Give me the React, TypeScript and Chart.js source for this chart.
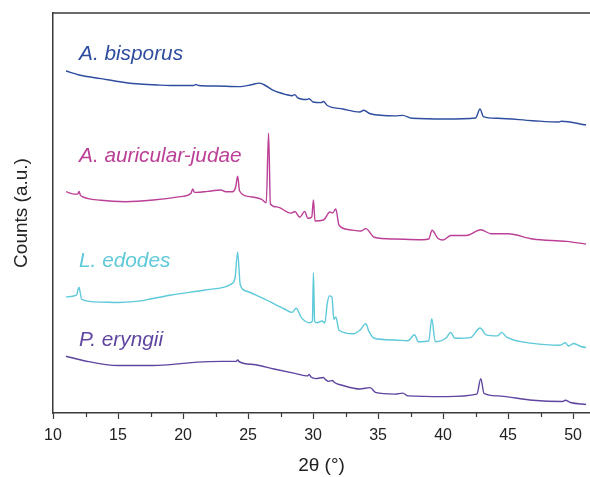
import React, { useEffect, useRef } from "react";
import { Chart, registerables } from "chart.js";

Chart.register(...registerables);

// ---- data (offset-stacked XRD patterns, arbitrary count units) ----
const bisporusX = [11.0, 12.0, 13.7, 15.0, 16.4, 18.0, 19.0, 20.8, 21.0, 21.2, 22.5, 24.3, 25.25, 25.86, 26.2, 27.0, 28.0, 28.4, 28.6, 28.8, 29.5, 29.7, 30.0, 30.6, 30.8, 31.1, 32.3, 33.6, 33.9, 34.4, 36.3, 36.9, 37.6, 40.2, 42.5, 42.84, 43.1, 44.2, 46.9, 48.9, 49.1, 51.0];
const bisporusY = [342, 338, 334.4, 331.5, 329.2, 328, 327.5, 327.5, 328.5, 327.5, 327, 326.4, 328.2, 329.9, 328.5, 322.3, 318.2, 317.2, 318.4, 315.4, 313.5, 314.2, 311, 310.4, 311.5, 307.5, 304, 301, 302.7, 299.2, 297.1, 297.6, 294.7, 294, 295, 304, 296.4, 294.7, 292.3, 291, 291.8, 288];

const auricularX = [11.0, 11.6, 11.9, 12.0, 12.1, 12.25, 13.7, 15.6, 17.7, 19.8, 20.6, 20.75, 20.85, 21.0, 21.9, 22.9, 23.3, 23.8, 24.05, 24.2, 24.35, 25.1, 26.05, 26.4, 26.58, 26.72, 27.2, 28.3, 28.6, 28.97, 29.36, 29.6, 29.9, 30.03, 30.15, 30.8, 31.3, 31.5, 31.75, 32.0, 32.8, 33.7, 34.06, 34.7, 36.3, 38.4, 38.9, 39.15, 39.6, 40.0, 40.6, 41.8, 42.9, 43.7, 45.0, 46.9, 49.5, 51.0];
const auricularY = [221.3, 218.9, 219, 221.6, 218, 216.4, 212.7, 211.3, 213, 216.4, 219.6, 224, 221, 220.6, 221.6, 223, 221.3, 221.3, 226, 236.8, 222, 216.4, 213.7, 210.2, 279.9, 209, 206.1, 199.9, 201.5, 195.8, 201.6, 194.7, 196, 213, 192, 193, 201, 200, 204, 187.8, 183.3, 182, 184.4, 175.8, 174, 173.3, 174, 182.7, 174.7, 173, 177.5, 177.5, 183.3, 179.2, 179.2, 174, 171.6, 168.9];

const edodesX = [11.0, 11.8, 12.0, 12.2, 13.7, 15.0, 16.4, 17.5, 19.0, 21.7, 23.3, 23.7, 24.0, 24.2, 24.4, 24.85, 26.2, 27.8, 28.4, 28.7, 29.1, 29.75, 29.95, 30.03, 30.12, 30.3, 30.7, 30.9, 31.1, 31.25, 31.45, 31.6, 31.75, 32.0, 33.1, 33.6, 34.06, 34.3, 34.7, 36.3, 37.3, 37.8, 38.1, 38.9, 39.13, 39.4, 40.2, 40.6, 40.9, 42.1, 42.85, 43.3, 44.2, 44.5, 44.9, 46.9, 49.0, 49.4, 49.65, 50.05, 50.6, 51.0];
const edodesY = [116.1, 117.8, 125.8, 113.7, 110.9, 110.5, 111.6, 114, 117.8, 123, 126.4, 128.9, 135, 160.9, 128.2, 122, 114.4, 104, 100.6, 104.7, 95.4, 90.2, 92, 140.2, 92, 90.2, 92, 90, 110, 117.1, 116.1, 93.7, 96, 82.7, 79.2, 82.7, 89.2, 81.6, 74.7, 73, 72.3, 78.2, 71.3, 72, 94.4, 71.3, 74.7, 80.6, 74.7, 75.4, 85, 78.2, 77.1, 80.6, 75.8, 69.6, 67.8, 70.2, 67, 69.5, 66.5, 65.4];

const eryngiiX = [11.0, 12.4, 15.0, 17.7, 20.3, 21.1, 23.0, 24.1, 24.2, 24.35, 25.6, 27.0, 28.6, 29.6, 29.7, 29.85, 30.2, 30.8, 30.95, 31.2, 31.5, 31.65, 32.3, 33.6, 34.4, 34.8, 36.3, 36.9, 37.3, 40.2, 42.6, 42.9, 43.15, 44.2, 46.9, 49.2, 49.4, 49.8, 51.0];
const eryngiiY = [56.8, 52.3, 47.5, 47.5, 49.9, 50.9, 51.6, 51.6, 53, 51, 48.2, 44, 39.6, 37.1, 38.5, 36, 34.4, 35.5, 33.5, 31.6, 32.5, 30.5, 27.5, 24, 25.4, 20.6, 18.9, 19.9, 17.1, 16.4, 18.9, 34.4, 19.6, 17.1, 12.7, 11.5, 12.8, 10.5, 8.5];

const seriesNames = ["A. bisporus", "A. auricular-judae", "L. edodes", "P. eryngii"];
const seriesColors = ["#2E4D9F", "#BB3F96", "#5DC9D9", "#5F45A0"];
const labelX = 12.0;
const labelY = [353.4, 251, 146, 67.5];

const xMin = 10;
const xMax = 51.3;
const xStep = 5;
const minorTicks = [12.5, 17.5, 22.5, 27.5, 32.5, 37.5, 42.5, 47.5];
const yMin = 0;
const yMax = 400;

const AXIS_COLOR = "#3a3a3a";
const FONT = '"Liberation Sans", Arial, Helvetica, sans-serif';

const toPoints = (xs: number[], ys: number[]) => xs.map((x, i) => ({ x, y: ys[i] }));

const decorPlugin = {
  id: "decor",
  afterDraw(chart: any) {
    const { ctx, chartArea, scales } = chart;
    const x = scales.x;
    const y = scales.y;
    ctx.save();
    ctx.strokeStyle = AXIS_COLOR;
    ctx.lineWidth = 1.5;
    ctx.beginPath();
    ctx.moveTo(chartArea.left, chartArea.top);
    ctx.lineTo(chartArea.right, chartArea.top);
    ctx.stroke();
    ctx.lineWidth = 1.2;
    ctx.beginPath();
    for (const v of minorTicks) {
      const px = Math.round(x.getPixelForValue(v)) + 0.5;
      ctx.moveTo(px, chartArea.bottom);
      ctx.lineTo(px, chartArea.bottom + 4);
    }
    ctx.stroke();
    ctx.font = `italic 20.8px ${FONT}`;
    ctx.textAlign = "left";
    ctx.textBaseline = "alphabetic";
    seriesNames.forEach((name, i) => {
      ctx.fillStyle = seriesColors[i];
      ctx.fillText(name, x.getPixelForValue(labelX), y.getPixelForValue(labelY[i]));
    });
    ctx.restore();
  },
};

export default function App() {
  const canvasRef = useRef<HTMLCanvasElement | null>(null);

  useEffect(() => {
    if (!canvasRef.current) return;
    const datasets = [
      toPoints(bisporusX, bisporusY),
      toPoints(auricularX, auricularY),
      toPoints(edodesX, edodesY),
      toPoints(eryngiiX, eryngiiY),
    ].map((data, i) => ({
      label: seriesNames[i],
      data,
      borderColor: seriesColors[i],
      backgroundColor: seriesColors[i],
      borderWidth: 1.4,
      pointRadius: 0,
      cubicInterpolationMode: "monotone" as const,
      fill: false,
    }));

    const chart = new Chart(canvasRef.current, {
      type: "line",
      data: { datasets },
      options: {
        animation: false,
        responsive: false,
        maintainAspectRatio: false,
        layout: { padding: { top: 13, right: 0, left: 0, bottom: 0 } },
        plugins: { legend: { display: false }, tooltip: { enabled: false } },
        scales: {
          x: {
            type: "linear",
            min: xMin,
            max: xMax,
            afterFit: (s: any) => {
              s.height = 64;
            },
            ticks: {
              stepSize: xStep,
              includeBounds: false,
              autoSkip: false,
              maxRotation: 0,
              padding: 7,
              color: "#222",
              font: { family: FONT, size: 16 },
            },
            grid: {
              display: true,
              drawOnChartArea: false,
              drawTicks: true,
              tickLength: 6,
              tickColor: AXIS_COLOR,
              tickWidth: 1.2,
            },
            border: { display: true, color: AXIS_COLOR, width: 1.5 },
            title: {
              display: true,
              text: "2θ (°)",
              color: "#222",
              font: { family: FONT, size: 19 },
              padding: { top: 0, bottom: 0 },
            },
          },
          y: {
            type: "linear",
            min: yMin,
            max: yMax,
            afterFit: (s: any) => {
              s.width = 53;
            },
            ticks: { display: false },
            grid: { display: false, drawTicks: false },
            border: { display: true, color: AXIS_COLOR, width: 1.5 },
            title: {
              display: true,
              text: "Counts (a.u.)",
              color: "#222",
              font: { family: FONT, size: 19 },
              padding: { top: 10, bottom: 0 },
            },
          },
        },
      },
      plugins: [decorPlugin],
    });
    return () => chart.destroy();
  }, []);

  return (
    <div style={{ position: "absolute", left: 0, top: 0, width: 590, height: 477, background: "#fff" }}>
      <canvas ref={canvasRef} width={590} height={477} style={{ display: "block" }} />
    </div>
  );
}
